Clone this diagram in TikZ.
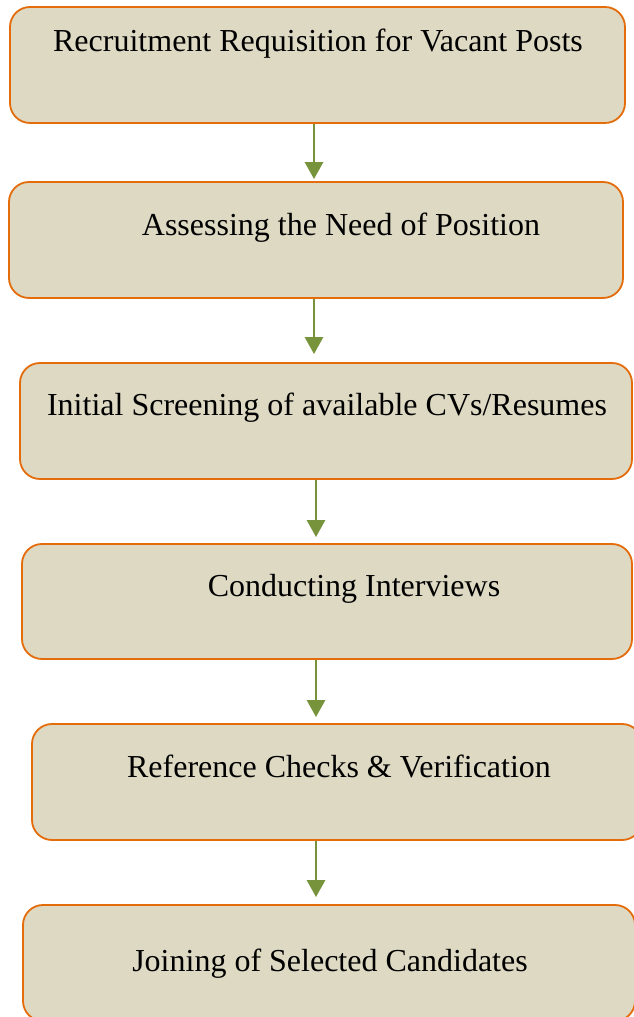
\documentclass[tikz,border=0pt]{standalone}
\usepackage{fontspec}
\setmainfont{Liberation Serif}
\usetikzlibrary{arrows.meta}
\definecolor{boxfill}{HTML}{DDD9C3}
\definecolor{boxline}{HTML}{E46C0A}
\definecolor{flowgreen}{HTML}{77933C}
\begin{document}
\begin{tikzpicture}[x=1pt,y=1pt,
  stage/.style={rectangle,rounded corners=20pt,fill=boxfill,draw=boxline,line width=1.8pt,inner sep=0pt},
  caption/.style={anchor=base,inner sep=0pt,font=\fontsize{32}{38}\selectfont},
  flow/.style={draw=flowgreen,line width=2.8pt,-{Triangle[width=18pt,length=17pt]}}]
 \useasboundingbox (0,0) rectangle (633,1017);
 \node[stage,minimum width=615pt,minimum height=116pt,name=req] at (317.5,952) {};
 \node[stage,minimum width=614pt,minimum height=116pt,name=need] at (316,777) {};
 \node[stage,minimum width=612pt,minimum height=116pt,name=screen] at (326,596) {};
 \node[stage,minimum width=610pt,minimum height=115pt,name=interview] at (327,415.5) {};
 \node[stage,minimum width=610pt,minimum height=116pt,name=verify] at (337,235) {};
 \node[stage,minimum width=612pt,minimum height=116pt,name=join] at (329,54) {};
 \node[caption,name=reqtext] at (318,965) {Recruitment Requisition for Vacant Posts};
 \node[caption,name=needtext] at (341,781) {Assessing the Need of Position};
 \node[caption,name=screentext] at (327,601) {Initial Screening of available CVs/Resumes};
 \node[caption,name=interviewtext] at (354,420) {Conducting Interviews};
 \node[caption,name=verifytext] at (339,239) {Reference Checks \& Verification};
 \node[caption,name=jointext] at (330,45) {Joining of Selected Candidates};
 % arrows between the stages
 \foreach \from/\to/\dx/\ex/\gap in {req/need/-3.5/-2/2, need/screen/-2/-12/8,
     screen/interview/-10/-11/6, interview/verify/-11/-21/6, verify/join/-21/-13/7} {
    \draw[flow,shorten >=\gap pt] ([xshift=\dx pt]\from.south) -- ([xshift=\ex pt]\to.north);
 }
\end{tikzpicture}
\end{document}
